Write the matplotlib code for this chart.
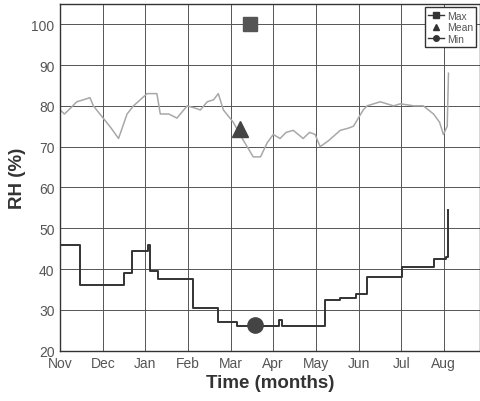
import matplotlib.pyplot as plt
from matplotlib.lines import Line2D

plt.rcParams['font.family'] = ['Liberation Sans', 'DejaVu Sans']

# x in months since 1 Nov
months = ["Nov", "Dec", "Jan", "Feb", "Mar", "Apr", "May", "Jun", "Jul", "Aug"]
rh_ticks = [20, 30, 40, 50, 60, 70, 80, 90, 100]

# mean daily RH (light gray trace)
mean_x = [0, 0.1, 0.25, 0.39, 0.55, 0.7, 0.78, 1.01, 1.2, 1.37, 1.57, 1.72, 2.04, 2.27, 2.35,
          2.55, 2.74, 2.98, 3.15, 3.29, 3.45, 3.6, 3.71, 3.83, 4.06, 4.3, 4.53, 4.7,
          4.86, 5.0, 5.16, 5.3, 5.47, 5.7, 5.85, 5.98, 6.1, 6.3, 6.57, 6.75, 6.88,
          7.11, 7.2, 7.51, 7.82, 7.98, 8.3, 8.52, 8.76, 8.9, 8.99, 9.08, 9.11]
mean_y = [79, 78, 79.5, 81, 81.5, 82, 80, 77, 74.5, 72, 78, 80, 83, 83, 78,
          78, 77, 80, 79.5, 79, 81, 81.5, 83, 79, 76, 71.5, 67.5, 67.5,
          71, 73, 72, 73.5, 74, 72, 73.5, 73, 70, 71.5, 74, 74.5, 75,
          79, 80, 81, 80, 80.5, 80, 80, 78, 76, 73, 75, 88]

# minimum RH (dark step trace)
min_x = [0, 0.47, 1.49, 1.69, 2.07, 2.1, 2.3, 3.12, 3.7, 4.15, 5.13, 5.2,
         6.22, 6.57, 6.95, 7.2, 8.03, 8.76, 9.04, 9.1]
min_y = [46, 36, 39, 44.5, 46, 39.5, 37.5, 30.5, 27, 26, 27.5, 26,
         32.5, 33, 34, 38, 40.5, 42.5, 43, 54.5]

# summary markers
max_pt = (4.46, 100)
mean_pt = (4.23, 74.4)
min_pt = (4.58, 26.3)

fig = plt.figure(figsize=(4.81, 4.02), dpi=100)
ax = fig.add_axes([0.125, 0.125, 0.873, 0.863])

ax.plot(mean_x, mean_y, color="#a8a8a8", lw=1.1)
ax.plot(min_x, min_y, color="#333333", lw=1.4, drawstyle="steps-post")

ax.plot(*max_pt, marker="s", ms=10, color="#555555", ls="none")
ax.plot(*mean_pt, marker="^", ms=11, color="#444444", ls="none")
ax.plot(*min_pt, marker="o", ms=11, color="#444444", ls="none")

ax.set_xlim(0, 9.85)
ax.set_ylim(20, 105)
ax.set_xticks(range(len(months)))
ax.set_xticklabels(months)
ax.set_yticks(rh_ticks)
ax.tick_params(labelsize=10, labelcolor="#555555", length=0, pad=4)
ax.grid(True, color="#555555", lw=0.7)
for s in ax.spines.values():
    s.set_color("#333333")
    s.set_linewidth(1.0)

ax.set_xlabel("Time (months)", fontsize=13.5, fontweight="bold", color="#333333", labelpad=3)
ax.set_ylabel("RH (%)", fontsize=13.5, fontweight="bold", color="#333333", labelpad=4)

handles = [
    Line2D([], [], color="#333333", lw=1, marker="s", ms=4),
    Line2D([], [], color="#333333", lw=0, marker="^", ms=4),
    Line2D([], [], color="#333333", lw=1, marker="o", ms=4),
]
leg = ax.legend(handles, ["Max", "Mean", "Min"], loc="upper right", fontsize=7.5,
                handlelength=1.5, handletextpad=0.3, labelspacing=0.15,
                borderpad=0.3, borderaxespad=0.35, fancybox=False, framealpha=1,
                labelcolor="#555555")
leg.get_frame().set_edgecolor("#333333")

fig.savefig("out.png", dpi=100)
